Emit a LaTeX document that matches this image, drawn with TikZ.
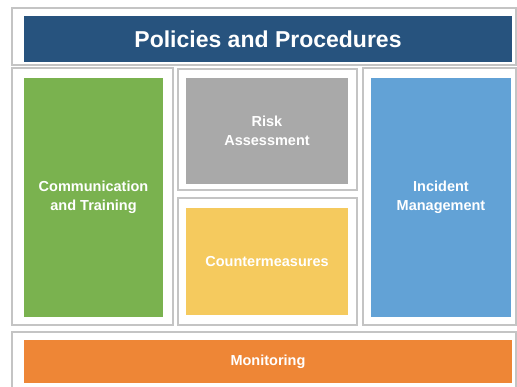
\documentclass[tikz,border=0pt]{standalone}
\usepackage{fontspec}
\setmainfont{Liberation Sans}
\definecolor{titleblue}{HTML}{27537E}
\definecolor{cgreen}{HTML}{7AB24F}
\definecolor{cgray}{HTML}{A9A9A9}
\definecolor{cyellow}{HTML}{F5CA5E}
\definecolor{clblue}{HTML}{62A2D6}
\definecolor{corange}{HTML}{EE8636}
\definecolor{frameline}{HTML}{C4C4C4}
\begin{document}
\begin{tikzpicture}[x=1pt,y=-1pt,
  framebox/.style={rectangle, draw=frameline, line width=1.3pt, fill=white, inner sep=0pt, outer sep=0pt},
  blk/.style={rectangle, inner sep=0pt, outer sep=0pt, text=white, align=center,
    font=\fontsize{14.5}{19}\selectfont\bfseries},
  titleblk/.style={blk, font=\fontsize{23}{27}\selectfont\bfseries}]
\path[use as bounding box] (0,0) rectangle (517,386);
\begin{scope}
\clip (0,0) rectangle (517,386);
% frames
\node[framebox, minimum width=504pt, minimum height=57pt] (ftop) at (264,36.5) {};
\node[framebox, minimum width=161pt, minimum height=257pt] (fleft) at (92.5,196.5) {};
\node[framebox, minimum width=179pt, minimum height=121pt] (frisk) at (267.5,129.5) {};
\node[framebox, minimum width=179pt, minimum height=127pt] (fcounter) at (267.5,261.5) {};
\node[framebox, minimum width=153pt, minimum height=257pt] (fright) at (439.5,196.5) {};
\node[framebox, minimum width=504pt, minimum height=58pt] (fbottom) at (264,361) {};
% coloured blocks
\node[titleblk, fill=titleblue, minimum width=488pt, minimum height=46pt] (policies) at (268,39) {Policies and Procedures};
\node[blk, fill=cgreen, minimum width=139pt, minimum height=239pt] (comm) at (93.5,197.5) {Communication\\and Training};
\node[blk, fill=cgray, minimum width=162pt, minimum height=106pt] (risk) at (267,131) {Risk\\Assessment};
\node[blk, fill=cyellow, minimum width=162pt, minimum height=107pt] (counter) at (267,261.5) {Countermeasures};
\node[blk, fill=clblue, minimum width=140pt, minimum height=239pt] (incident) at (441,197.5) {Incident\\Management};
\node[blk, fill=corange, minimum width=488pt, minimum height=43pt] (monitor) at (268,361.5) {Monitoring};
\end{scope}
\end{tikzpicture}
\end{document}
